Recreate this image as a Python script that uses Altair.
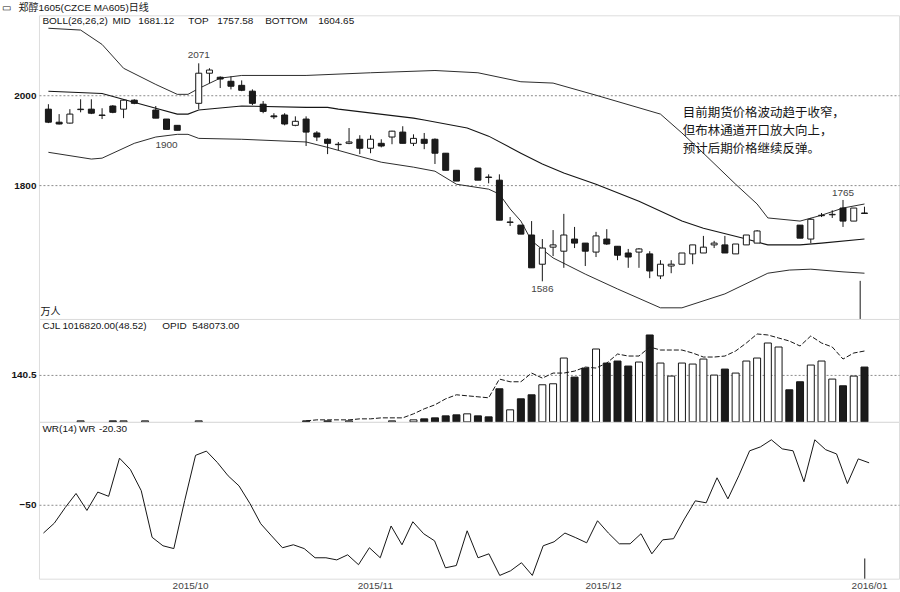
import altair as alt
import pandas as pd

# ---------------- data ----------------
idx = list(range(77))
N = None
opens = [1969, 1940, 1938, 1968, 1969, 1955, 1976, 1969, 1989, N,
         1967, 1947, 1933, N, 1982, 2049, 2040, 2031, 2022, 2009,
         1980, 1954, 1956, 1933, 1947, 1916, 1902, 1890, 1893, 1902,
         1882, 1893, 1907, 1918, 1893, 1902, 1902, 1871, 1833, N,
         1838, 1818, 1811, 1717, 1711, 1689, 1624, 1662, 1653, 1680,
         1671, 1651, 1680, 1664, 1649, 1651, 1647, 1598, 1620, 1624,
         1647, 1649, 1667, 1667, 1647, 1667, 1671, N, N, N,
         1711, 1680, 1732, 1734, 1749, 1720, 1738]
highs = [1980, 1958, 1969, 1991, 1991, 1971, 1978, 1991, 1991, N,
         1976, 1947, 1933, N, 2071, 2060, 2042, 2042, 2033, 2013,
         1987, 1960, 1960, 1953, 1953, 1920, 1904, 1896, 1927, 1911,
         1911, 1902, 1921, 1931, 1913, 1916, 1904, 1871, 1833, N,
         1838, 1824, 1824, 1729, 1711, 1720, 1680, 1700, 1736, 1707,
         1671, 1696, 1702, 1664, 1658, 1660, 1653, 1633, 1633, 1649,
         1667, 1687, 1676, 1687, 1669, 1689, 1700, N, N, N,
         1711, 1727, 1738, 1744, 1767, 1749, 1752]
lows = [1938, 1935, 1937, 1962, 1958, 1947, 1960, 1949, 1980, N,
        1949, 1924, 1922, N, 1969, 2027, 2016, 2013, 2009, 1978,
        1960, 1947, 1933, 1931, 1887, 1898, 1869, 1878, 1891, 1869,
        1871, 1884, 1891, 1893, 1887, 1880, 1847, 1833, 1809, N,
        1811, 1804, 1722, 1709, 1691, 1616, 1586, 1642, 1616, 1660,
        1620, 1640, 1667, 1633, 1616, 1616, 1593, 1591, 1604, 1624,
        1624, 1649, 1660, 1649, 1647, 1667, 1671, N, N, N,
        1682, 1671, 1729, 1727, 1707, 1720, 1736]
closes = [1940, 1936, 1958, 1969, 1960, 1956, 1962, 1989, 1982, N,
          1949, 1924, 1922, N, 2049, 2056, 2036, 2020, 2011, 1982,
          1964, 1952, 1936, 1942, 1918, 1907, 1893, 1891, 1896, 1882,
          1902, 1887, 1920, 1893, 1904, 1893, 1871, 1833, 1809, N,
          1811, 1817, 1722, 1718, 1691, 1616, 1660, 1667, 1689, 1671,
          1653, 1687, 1669, 1644, 1640, 1658, 1609, 1624, 1624, 1649,
          1667, 1662, 1671, 1649, 1669, 1689, 1698, N, N, N,
          1682, 1724, 1733, 1735, 1720, 1749, 1737]

# Bollinger bands (TOP / MID / BOTTOM)
top_idx = [0, 3, 5, 7, 10, 12, 13, 14, 16, 18, 24, 30, 36, 40, 44, 47, 51, 57, 59, 61, 64, 66, 67, 70, 72, 74, 76]
top_val = [2149, 2145, 2113, 2060, 2024, 2002, 2002, 2015, 2038, 2044, 2044, 2050, 2055, 2050, 2030, 2027, 2000, 1958, 1916, 1871, 1802, 1758, 1727, 1720, 1733, 1749, 1758]
mid_idx = [0, 5, 10, 12, 13, 14, 18, 24, 26, 27, 34, 35, 39, 41, 44, 46, 48, 51, 55, 59, 61, 65, 67, 70, 72, 76]
mid_val = [2009, 2004, 1971, 1958, 1958, 1967, 1976, 1973, 1973, 1969, 1949, 1945, 1927, 1909, 1871, 1847, 1827, 1802, 1764, 1720, 1704, 1680, 1667, 1667, 1671, 1680]
bot_idx = [0, 4, 5, 8, 10, 12, 13, 14, 18, 24, 26, 29, 31, 34, 36, 38, 41, 42, 43, 44, 45, 47, 50, 53, 57, 59, 63, 67, 69, 71, 74, 76]
bot_val = [1873, 1858, 1860, 1893, 1907, 1913, 1913, 1904, 1902, 1896, 1884, 1864, 1851, 1840, 1831, 1802, 1791, 1780, 1747, 1720, 1676, 1638, 1602, 1569, 1527, 1527, 1558, 1604, 1611, 1613, 1607, 1604]

# volume (CJL) and open interest line
volume = [0, 0, 0, 3, 0, 0, 3, 3, 0, 3,
          0, 0, 0, 0, 3, 0, 0, 0, 0, 0,
          0, 0, 0, 0, 3, 0, 3, 0, 3, 0,
          0, 0, 3, 0, 6, 9, 12, 18, 21, 24,
          18, 15, 99, 36, 69, 81, 111, 114, 191, 134,
          161, 218, 176, 182, 167, 179, 260, 176, 137, 176,
          173, 188, 140, 158, 146, 182, 191, 236, 224, 96,
          120, 170, 182, 128, 108, 137, 164]
vol_black_missing = {9: False, 13: False, 39: False, 67: False, 68: False, 69: True}
opid_idx = list(range(24, 77))
opid_val = [3, 6, 6, 6, 6, 9, 9, 12, 12, 12,
            24, 39, 51, 69, 81, 78, 75, 72, 128, 120,
            120, 146, 131, 146, 146, 152, 164, 161, 176, 203,
            197, 197, 224, 215, 215, 215, 206, 194, 194, 197,
            212, 236, 263, 260, 251, 242, 227, 257, 236, 224,
            188, 206, 212]

# WR(14)
wr = [-70, -63, -52, -42, -54, -41, -44, -17, -25, -40,
      -73, -79, -81, -47, -15, -12, -20, -29.5, -36.6, -49,
      -63.4, -72, -80.4, -78.3, -81, -87.5, -87.5, -89, -85.4, -92.4,
      -80.4, -87.5, -65, -78.3, -62, -70.5, -75.5, -94.6, -93, -68.4,
      -87.5, -84.7, -100, -96.7, -91, -100, -79, -76.2, -70, -73.3,
      -76.9, -61.3, -70, -77.6, -77.6, -70.5, -84.7, -74.8, -74, -60,
      -47.2, -48.6, -30.9, -45.8, -29.5, -11.8, -9, -4, -10.4, -11.8,
      -33.7, -4, -11, -14, -35, -17.5, -20.3]

high_marks = [(14, 2071, "2071"), (74, 1765, "1765")]
low_marks = [(11, 1906, "1900"), (46, 1586, "1586")]
cursor_idx = 75.6

month_pos = [13.5, 30.5, 51.5, 76]
month_lab = ["2015/10", "2015/11", "2015/12", "2016/01"]

note_lines = ["目前期货价格波动趋于收窄，", "但布林通道开口放大向上，", "预计后期价格继续反弹。"]

# ---------------- frames ----------------
cd = pd.DataFrame({"i": idx, "o": opens, "h": highs, "l": lows, "c": closes}).dropna()
cd["fill"] = ["white" if c >= o else "#1b1b1b" for o, c in zip(cd["o"], cd["c"])]

vfill = []
for k in idx:
    if opens[k] is None:
        vfill.append("#1b1b1b" if vol_black_missing.get(k, False) else "white")
    else:
        vfill.append("white" if closes[k] >= opens[k] else "#1b1b1b")
vd = pd.DataFrame({"i": idx, "v": volume, "fill": vfill})
vd = vd[vd["v"] > 0]

W = 861
H_TOP, H_VOL, H_WR = 304, 103, 157
FONT = "Liberation Sans, Noto Sans CJK SC"
CJK = "Noto Sans CJK SC"
INK = "#151515"
GRID = "#8c8c8c"

xs = alt.Scale(domain=[-0.414, 78.75], nice=False, zero=False)
X = alt.X("i:Q", scale=xs, axis=None)


def yaxis(values, fmt):
    return alt.Axis(values=values, format=fmt, title=None, grid=True, gridDash=[2, 2],
                    gridColor=GRID, gridWidth=1, ticks=False, domain=False,
                    labelFontWeight="bold", labelFontSize=10, labelColor=INK,
                    labelPadding=3, labelFont="Liberation Sans")


def txt(text, x, y, size=10, color=INK, align="left", font=FONT):
    return alt.Chart(pd.DataFrame({"t": [text]})).mark_text(
        align=align, baseline="middle", fontSize=size, color=color, font=font
    ).encode(x=alt.value(x), y=alt.value(y), text="t:N")


# ---------------- top panel: candles + BOLL ----------------
ys_top = alt.Scale(domain=[1502.2, 2177.8], nice=False, zero=False)
ax_top = yaxis([1800, 2000], "d")


def band(ix, vals, width=1.0):
    return alt.Chart(pd.DataFrame({"i": ix, "v": vals})).mark_line(
        color=INK, strokeWidth=width
    ).encode(x=X, y=alt.Y("v:Q", scale=ys_top, axis=ax_top))


wick = alt.Chart(cd).mark_rule(color=INK, strokeWidth=1).encode(
    x=X, y=alt.Y("l:Q", scale=ys_top, axis=ax_top), y2="h:Q")
body = alt.Chart(cd).mark_bar(size=6, stroke=INK, strokeWidth=1).encode(
    x=X, y=alt.Y("o:Q", scale=ys_top, axis=ax_top), y2="c:Q",
    fill=alt.Fill("fill:N", scale=None))

hm = pd.DataFrame(high_marks, columns=["i", "p", "t"])
lm = pd.DataFrame(low_marks, columns=["i", "p", "t"])
hlab = alt.Chart(hm).mark_text(dy=-8, fontSize=10, color="#444", font=FONT).encode(
    x=X, y=alt.Y("p:Q", scale=ys_top, axis=ax_top), text="t:N")
llab = alt.Chart(lm).mark_text(dy=8, fontSize=10, color="#444", font=FONT).encode(
    x=X, y=alt.Y("p:Q", scale=ys_top, axis=ax_top), text="t:N")

cur_top = alt.Chart(pd.DataFrame({"i": [cursor_idx], "p": [1587]})).mark_rule(
    color=INK, strokeWidth=1).encode(x=X, y=alt.Y("p:Q", scale=ys_top, axis=ax_top),
                                     y2=alt.value(H_TOP))

note_texts = [txt(line, 644.5, 97.5 + 18.2 * k, size=12.5, font=CJK)
              for k, line in enumerate(note_lines)]

top_texts = [
    txt("▭", -36.5, -7, size=10),
    txt("郑醇1605(CZCE MA605)日线", -20.5, -7, size=10),
    txt("BOLL(26,26,2)", 3.5, 6),
    txt("MID", 73.5, 6),
    txt("1681.12", 99.5, 6),
    txt("TOP", 149.5, 6),
    txt("1757.58", 178.5, 6),
    txt("BOTTOM", 226.5, 6),
    txt("1604.65", 279.5, 6),
    txt("万人", 1.5, 297, size=10),
] + note_texts

top = alt.layer(
    band(top_idx, top_val, 0.9), band(mid_idx, mid_val, 1.1), band(bot_idx, bot_val, 0.9),
    wick, body, hlab, llab, cur_top, *top_texts
).properties(width=W, height=H_TOP)

# ---------------- volume panel ----------------
ys_vol = alt.Scale(domain=[0, 307.9], nice=False, zero=False)
ax_vol = yaxis([140.5], ".1f")
vbars = alt.Chart(vd).mark_bar(size=7, stroke=INK, strokeWidth=1).encode(
    x=X, y=alt.Y("v:Q", scale=ys_vol, axis=ax_vol), y2=alt.datum(0),
    fill=alt.Fill("fill:N", scale=None))
opid = alt.Chart(pd.DataFrame({"i": opid_idx, "v": opid_val})).mark_line(
    color=INK, strokeWidth=1, strokeDash=[5, 2]).encode(
    x=X, y=alt.Y("v:Q", scale=ys_vol, axis=ax_vol))
vol = alt.layer(
    vbars, opid,
    txt("CJL", 3.5, 7), txt("1016820.00(48.52)", 23.5, 7),
    txt("OPID", 123.5, 7), txt("548073.00", 153.5, 7),
).properties(width=W, height=H_VOL)

# ---------------- WR panel ----------------
ys_wr = alt.Scale(domain=[-102.3, 8.7], nice=False, zero=False)
ax_wr = yaxis([-50], "d")
lab_expr = " : ".join(
    [f"datum.value == {p} ? '{l}'" for p, l in zip(month_pos, month_lab)]) + " : ''"
Xwr = alt.X("i:Q", scale=xs, axis=alt.Axis(
    values=month_pos, labelExpr=lab_expr, title=None, grid=False, ticks=False,
    domain=False, labelFontSize=10, labelColor="#444", labelPadding=2,
    labelOverlap=False, labelFlush=False, labelFont="Liberation Sans"))
wrline = alt.Chart(pd.DataFrame({"i": idx, "w": wr})).mark_line(
    color=INK, strokeWidth=1).encode(x=Xwr, y=alt.Y("w:Q", scale=ys_wr, axis=ax_wr))
cur_wr = alt.Chart(pd.DataFrame({"i": [cursor_idx], "w": [-88]})).mark_rule(
    color=INK, strokeWidth=1).encode(x=Xwr, y=alt.Y("w:Q", scale=ys_wr, axis=ax_wr),
                                     y2=alt.value(H_WR))
wrp = alt.layer(
    wrline, cur_wr,
    txt("WR(14)", 3.5, 7), txt("WR", 40, 7), txt("-20.30", 60, 7),
).properties(width=W, height=H_WR)

chart = alt.vconcat(top, vol, wrp, spacing=0, bounds="flush").properties(
    padding={"left": 2, "top": 2, "right": 0, "bottom": 0},
    background="white",
).configure_view(stroke=GRID, strokeWidth=1).configure(font="Liberation Sans")

chart.save("out.html", embed_options={"renderer": "svg", "actions": False})
